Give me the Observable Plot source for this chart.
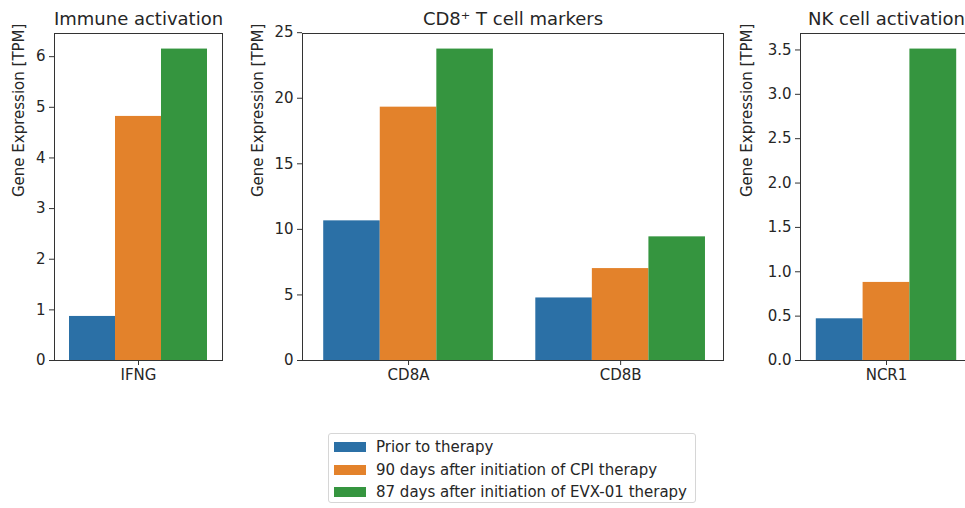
<!DOCTYPE html>
<html>
<head>
<meta charset="utf-8">
<script src="https://cdn.jsdelivr.net/npm/d3@7"></script>
<script src="https://cdn.jsdelivr.net/npm/@observablehq/plot@0.6"></script>
<style>
  html, body { margin: 0; padding: 0; background: #fff; }
  #root { position: relative; width: 965px; height: 508px; overflow: hidden; font-family: "DejaVu Sans", sans-serif; color: #262626; }
  .panel { position: absolute; top: 0; }
  .panel svg { max-width: none !important; display: block; }
  #legend { position: absolute; left: 328px; top: 433px; width: 368px; height: 70px; border: 1px solid #d6d6d6; border-radius: 3px; box-sizing: border-box; }
  .row { position: absolute; left: 0; height: 20px; display: flex; align-items: center; font-size: 15px; white-space: nowrap; }
  .sw { width: 32px; height: 10px; margin-left: 5px; margin-right: 10px; }
</style>
</head>
<body>
<div id="root">
  <div id="p1" class="panel" style="left:0px;width:230px"></div>
  <div id="p2" class="panel" style="left:230px;width:500px"></div>
  <div id="p3" class="panel" style="left:730px;width:250px"></div>
  <div id="legend"></div>
</div>
<script>
// ---- data ----
const series = ["Prior to therapy", "90 days after initiation of CPI therapy", "87 days after initiation of EVX-01 therapy"];
const seriesColors = ["#2b70a6", "#e3822b", "#35953f"];

const panel1Title = "Immune activation";
const panel1Genes = ["IFNG"];
const panel1Prior = [0.87];
const panel1CPI = [4.82];
const panel1EVX = [6.15];
const panel1Ticks = [0, 1, 2, 3, 4, 5, 6];

const panel2Title = "CD8\u207A T cell markers";
const panel2Genes = ["CD8A", "CD8B"];
const panel2Prior = [10.65, 4.77];
const panel2CPI = [19.32, 7.01];
const panel2EVX = [23.75, 9.43];
const panel2Ticks = [0, 5, 10, 15, 20, 25];

const panel3Title = "NK cell activation";
const panel3Genes = ["NCR1"];
const panel3Prior = [0.47];
const panel3CPI = [0.88];
const panel3EVX = [3.51];
const panel3Ticks = [0, 0.5, 1.0, 1.5, 2.0, 2.5, 3.0, 3.5];

const yLabel = "Gene Expression [TPM]";

// ---- drawing ----
function toRows(genes, groups) {
  const rows = [];
  const w = 0.8 / series.length;
  genes.forEach((g, i) => {
    groups.forEach((vals, k) => {
      rows.push({gene: g, series: series[k], value: vals[i], x1: i - 0.4 + k * w, x2: i - 0.4 + (k + 1) * w});
    });
  });
  return rows;
}

function panel({genes, groups, ticks, title, width, marginLeft, marginRight, xDomain, tickFormat, labelDx}) {
  const rows = toRows(genes, groups);
  const yMax = d3.max(rows, d => d.value) * 1.05;
  return Plot.plot({
    width, height: 400,
    marginLeft, marginRight, marginTop: 33, marginBottom: 40,
    style: {fontFamily: "DejaVu Sans", fontSize: "15px", color: "#262626", background: "transparent", maxWidth: "none"},
    x: {type: "linear", domain: xDomain},
    y: {domain: [0, yMax]},
    color: {domain: series, range: seriesColors},
    marks: [
      Plot.rectY(rows, {x1: "x1", x2: "x2", y: "value", fill: "series"}),
      Plot.frame({stroke: "#333", strokeWidth: 1}),
      Plot.axisY({ticks, tickSize: 5, tickPadding: 4, fontSize: 15, label: null, tickFormat, stroke: "#333"}),
      Plot.axisX({ticks: genes.map((g, i) => i), tickFormat: i => genes[i], tickSize: 5, tickPadding: 4, fontSize: 15, label: null, stroke: "#333"}),
      Plot.text([yLabel], {frameAnchor: "left", dx: labelDx, rotate: -90, fontSize: 15, fill: "#262626"}),
      Plot.text([title], {frameAnchor: "top", dy: -9, lineAnchor: "bottom", fontSize: 18, fill: "#262626"})
    ]
  });
}

document.getElementById("p1").append(panel({
  genes: panel1Genes, groups: [panel1Prior, panel1CPI, panel1EVX], ticks: panel1Ticks, title: panel1Title,
  width: 230, marginLeft: 54, marginRight: 8, xDomain: [-0.487, 0.487], tickFormat: d3.format("d"), labelDx: -35
}));
document.getElementById("p2").append(panel({
  genes: panel2Genes, groups: [panel2Prior, panel2CPI, panel2EVX], ticks: panel2Ticks, title: panel2Title,
  width: 500, marginLeft: 72, marginRight: 7, xDomain: [-0.5, 1.485], tickFormat: d3.format("d"), labelDx: -44
}));
document.getElementById("p3").append(panel({
  genes: panel3Genes, groups: [panel3Prior, panel3CPI, panel3EVX], ticks: panel3Ticks, title: panel3Title,
  width: 250, marginLeft: 70, marginRight: 8, xDomain: [-0.49, 0.49], tickFormat: d3.format(".1f"), labelDx: -53
}));

// legend
const legend = document.getElementById("legend");
series.forEach((s, k) => {
  const row = document.createElement("div");
  row.className = "row";
  row.style.top = (3 + k * 22.5) + "px";
  const sw = document.createElement("div");
  sw.className = "sw";
  sw.style.background = seriesColors[k];
  const label = document.createElement("span");
  label.textContent = s;
  row.append(sw, label);
  legend.append(row);
});
</script>
</body>
</html>
